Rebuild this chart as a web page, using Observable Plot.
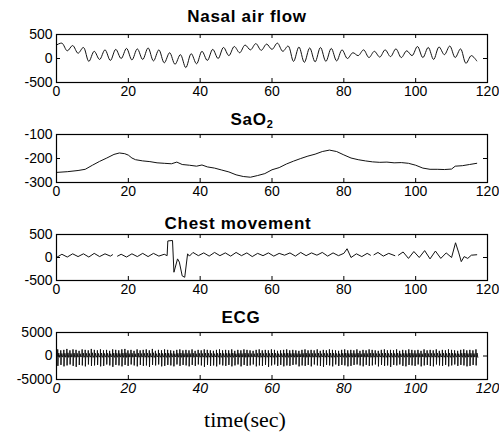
<!DOCTYPE html>
<html>
<head>
<meta charset="utf-8">
<script src="https://cdn.jsdelivr.net/npm/d3@7"></script>
<script src="https://cdn.jsdelivr.net/npm/@observablehq/plot@0.6"></script>
<style>
  html, body { margin: 0; padding: 0; background: #fff; }
  #root { position: relative; width: 499px; height: 435px; background: #fff; overflow: hidden; }
  .panel { position: absolute; left: 0; }
  .title { position: absolute; font-family: "Liberation Sans", Arial, sans-serif; font-weight: bold; font-size: 17px; letter-spacing: 0.7px; line-height: 17px; white-space: nowrap; transform: translateX(-50%); color: #000; }
  .title sub { font-size: 11px; vertical-align: -3px; line-height: 0; }
  .xlabel { position: absolute; font-family: "Liberation Serif", "Times New Roman", serif; font-size: 22px; line-height: 22px; white-space: nowrap; transform: translateX(-50%); color: #000; }
</style>
</head>
<body>
<div id="root"></div>
<script>
// ---------- data ----------
const titles = ["Nasal air flow", "SaO2", "Chest movement", "ECG"];
const xAxisLabel = "time(sec)";
const xTicks = [0, 20, 40, 60, 80, 100, 120];
const innerXTicks = [20, 40, 60, 80, 100];

const nasalTicks = [-500, 0, 500];
const nasalPts = [
  [0,280],[1.5,320],[3,160],[4.5,270],[6,110],[7.5,230],[9,-60],[10.5,150],[12,-20],[13.5,180],
  [15,-40],[16.5,190],[18,0],[19.5,210],[21,-30],[22.5,200],[24,-20],[25.5,220],[27,-50],[28.5,180],
  [30,-90],[31.5,120],[33,-120],[34.5,80],[36,-190],[37.5,100],[39,-110],[40.5,150],[42,-40],[43.5,190],
  [45,0],[46.5,230],[48,60],[49.5,250],[51,120],[52.5,280],[54,180],[55.5,310],[57,170],[58.5,300],
  [60,190],[61.5,320],[63,150],[64.5,260],[66,-60],[67.5,240],[69,-80],[70.5,220],[72,-70],[73.5,230],
  [75,-60],[76.5,210],[78,-50],[79.5,180],[81,0],[82.5,120],[84,60],[85.5,180],[87,20],[88.5,150],
  [90,30],[91.5,180],[93,40],[94.5,200],[96,20],[97.5,160],[99,60],[100.5,250],[102,20],[103.5,230],
  [105,-20],[106.5,240],[108,80],[109.5,260],[111,20],[112.5,200],[114,-100],[115.5,60],[117,-50]
];

const saoTicks = [-300, -200, -100];
const saoPts = [
  [0,-258],[3,-255],[6,-250],[8,-245],[10,-228],[12,-212],[14,-198],[16,-183],[17.5,-177],[19,-180],
  [20,-186],[21,-198],[22,-205],[24,-210],[26,-213],[28,-218],[30,-220],[32,-222],[33.5,-215],[35,-225],
  [37,-228],[39,-232],[40.5,-227],[42,-235],[44,-240],[46,-248],[48,-256],[50,-268],[52,-275],[54,-278],
  [56,-271],[58,-263],[60,-247],[62,-238],[64,-223],[66,-211],[68,-200],[70,-190],[72,-182],[74,-171],
  [76,-165],[78,-171],[80,-185],[82,-198],[84,-205],[86,-210],[88,-214],[90,-216],[92,-215],[94,-218],
  [96,-217],[98,-220],[100,-228],[102,-240],[104,-245],[106,-245],[108,-246],[110,-244],[111,-232],[113,-230],
  [115,-225],[117,-220]
];

const chestTicks = [-500, 0, 500];
const chestPts = [
  [0,0],[1.5,70],[3,10],[4.5,80],[6,20],[7.5,80],[9,10],[10.5,90],[12,20],[13.5,80],
  [15,30],[15.6,60],[16.2,null],[17,30],[18,70],[19.5,10],[21,80],[22.5,20],[24,90],[25.5,20],
  [27,90],[28.5,30],[30,70],[30.8,40],[31,360],[32.3,370],[32.7,-320],[33.7,-30],[34.2,-100],[35,-400],
  [35.7,-430],[36.5,80],[37,30],[38,110],[39.5,40],[41,100],[42.5,30],[44,110],[45.5,40],[47,100],
  [48.5,30],[50,110],[51.5,40],[53,100],[54.5,20],[56,90],[57.5,40],[59,100],[60.5,30],[62,90],
  [63.5,50],[65,100],[66.5,30],[68,110],[69.5,40],[71,100],[72.5,50],[74,110],[75.5,30],[77,100],
  [78.5,40],[80,90],[80.9,190],[82,0],[83.5,80],[85,20],[86.5,90],[87.4,50],[87.9,null],[88.4,60],
  [89.5,110],[91,30],[92.5,90],[94.2,40],[94.7,null],[95.2,50],[96.5,120],[98,-20],[99.5,130],[101,0],
  [102.5,150],[104,-30],[105.5,140],[107,-20],[108.5,100],[110,0],[111.1,320],[112,100],[112.7,-90],[113.5,20],
  [114.5,-20],[115.5,50],[117,60]
];

const ecgTicks = [-5000, 0, 5000];
const ecgBeatPeriod = 0.85;   // s between beats
const ecgFirstBeat = 0.3;     // s
// R peak and S trough of every beat, in units of 100
const ecgR = [
  14,12,13,15,12,14,13,11,14,13,12,15,13,12,14,12,13,11,14,13,
  12,14,15,12,13,11,14,12,13,14,12,15,11,13,12,14,13,12,11,13,
  14,12,13,12,14,11,13,12,14,13,12,11,13,14,12,13,12,14,11,13,
  12,14,13,12,11,13,14,12,13,12,14,13,11,12,13,14,12,13,12,11,
  13,14,12,13,12,14,11,13,12,14,13,12,11,13,14,12,13,12,14,11,
  13,12,14,13,12,11,13,14,12,13,12,14,11,13,12,14,13,12,13,11,
  14,12,13,12,14,11,13,12,14,13,12,11,13,14,12,13,12,14
];
const ecgS = [
  -21,-19,-22,-20,-18,-21,-23,-19,-20,-22,-18,-21,-20,-19,-22,-21,-18,-20,-23,-19,
  -20,-22,-19,-21,-18,-20,-22,-19,-21,-20,-23,-19,-20,-18,-22,-21,-19,-20,-22,-18,
  -21,-19,-20,-22,-19,-21,-18,-20,-23,-19,-21,-20,-22,-18,-20,-21,-19,-22,-20,-18,
  -22,-19,-21,-20,-18,-22,-20,-21,-19,-23,-20,-18,-21,-19,-22,-20,-21,-19,-18,-22,
  -20,-21,-19,-22,-18,-20,-21,-23,-19,-20,-22,-18,-21,-19,-20,-22,-21,-19,-18,-20,
  -22,-19,-21,-20,-18,-22,-19,-21,-20,-23,-19,-20,-18,-21,-22,-19,-20,-21,-18,-22,
  -20,-19,-21,-22,-18,-20,-21,-19,-22,-20,-18,-21,-19,-20,-22,-21,-19,-20
];
// relative shape of one beat: time offset (s) and which value it takes
const ecgShapeDt = [0, 0.04, 0.09, 0.16, 0.33, 0.55];

// ---------- build tables ----------
const toRows = pts => pts.map(([t, v]) => ({t, v}));
const ecgRows = [];
ecgR.forEach((r, i) => {
  const t0 = ecgFirstBeat + i * ecgBeatPeriod;
  const R = r * 100, S = ecgS[i] * 100;
  const vals = [150, R, S, -350, 0.45 * R, -0.2 * R];
  ecgShapeDt.forEach((dt, k) => ecgRows.push({t: t0 + dt, v: vals[k]}));
});

// ---------- layout ----------
const root = document.getElementById("root");
const FONT = "'Liberation Sans', Arial, sans-serif";
const plainFormat = d => String(d);
const TICK = 4;

function addTitle(html, cx, baseline) {
  const d = document.createElement("div");
  d.className = "title";
  d.innerHTML = html;
  d.style.left = cx + "px";
  d.style.top = (baseline - 14.4) + "px";
  root.appendChild(d);
}

function addPanel({rows, domain, yTicks, frameTop, frameBottom, italic = false, strokeWidth = 1, curve = "linear"}) {
  const mt = 8, mb = 26, ml = 56, mr = 12, W = 499;
  const h = frameBottom - frameTop;
  const w = W - ml - mr;
  const yMid = [yTicks[1]];
  const svg = Plot.plot({
    width: W,
    height: h + mt + mb,
    marginLeft: ml, marginRight: mr, marginTop: mt, marginBottom: mb,
    style: {fontFamily: FONT, fontSize: "14px", color: "#000", background: "transparent", overflow: "visible"},
    x: {domain: [0, 120]},
    y: {domain},
    marks: [
      Plot.line(rows, {x: "t", y: "v", stroke: "#111", strokeWidth, curve}),
      // inward tick marks on the frame
      Plot.tickX(innerXTicks, {x: d => d, insetTop: h - TICK, stroke: "#000"}),
      Plot.tickX(innerXTicks, {x: d => d, insetBottom: h - TICK, stroke: "#000"}),
      Plot.tickY(yMid, {y: d => d, insetRight: w - TICK, stroke: "#000"}),
      Plot.tickY(yMid, {y: d => d, insetLeft: w - TICK, stroke: "#000"}),
      Plot.frame({stroke: "#000", strokeWidth: 1.2}),
      Plot.axisX(xTicks, {anchor: "bottom", tickSize: 0, tickPadding: 4, label: null, tickFormat: plainFormat, fontStyle: italic ? "italic" : "normal"}),
      Plot.axisY(yTicks, {anchor: "left", tickSize: 0, tickPadding: 4, label: null, tickFormat: plainFormat})
    ]
  });
  svg.classList.add("panel");
  svg.style.top = (frameTop - mt) + "px";
  root.appendChild(svg);
}

addPanel({rows: toRows(nasalPts), domain: [-500, 500], yTicks: nasalTicks, frameTop: 34, frameBottom: 82, curve: "catmull-rom"});
addPanel({rows: toRows(saoPts), domain: [-300, -100], yTicks: saoTicks, frameTop: 134, frameBottom: 182});
addPanel({rows: toRows(chestPts), domain: [-500, 500], yTicks: chestTicks, frameTop: 234, frameBottom: 280});
addPanel({rows: ecgRows, domain: [-5000, 5000], yTicks: ecgTicks, frameTop: 332, frameBottom: 379, italic: true, strokeWidth: 1});

addTitle(titles[0], 247, 22);
addTitle("SaO<sub>2</sub>", 252, 125);
addTitle(titles[2], 238, 229);
addTitle(titles[3], 241, 323);

const xl = document.createElement("div");
xl.className = "xlabel";
xl.textContent = xAxisLabel;
xl.style.left = "245px";
xl.style.top = "409px";
root.appendChild(xl);
</script>
</body>
</html>
